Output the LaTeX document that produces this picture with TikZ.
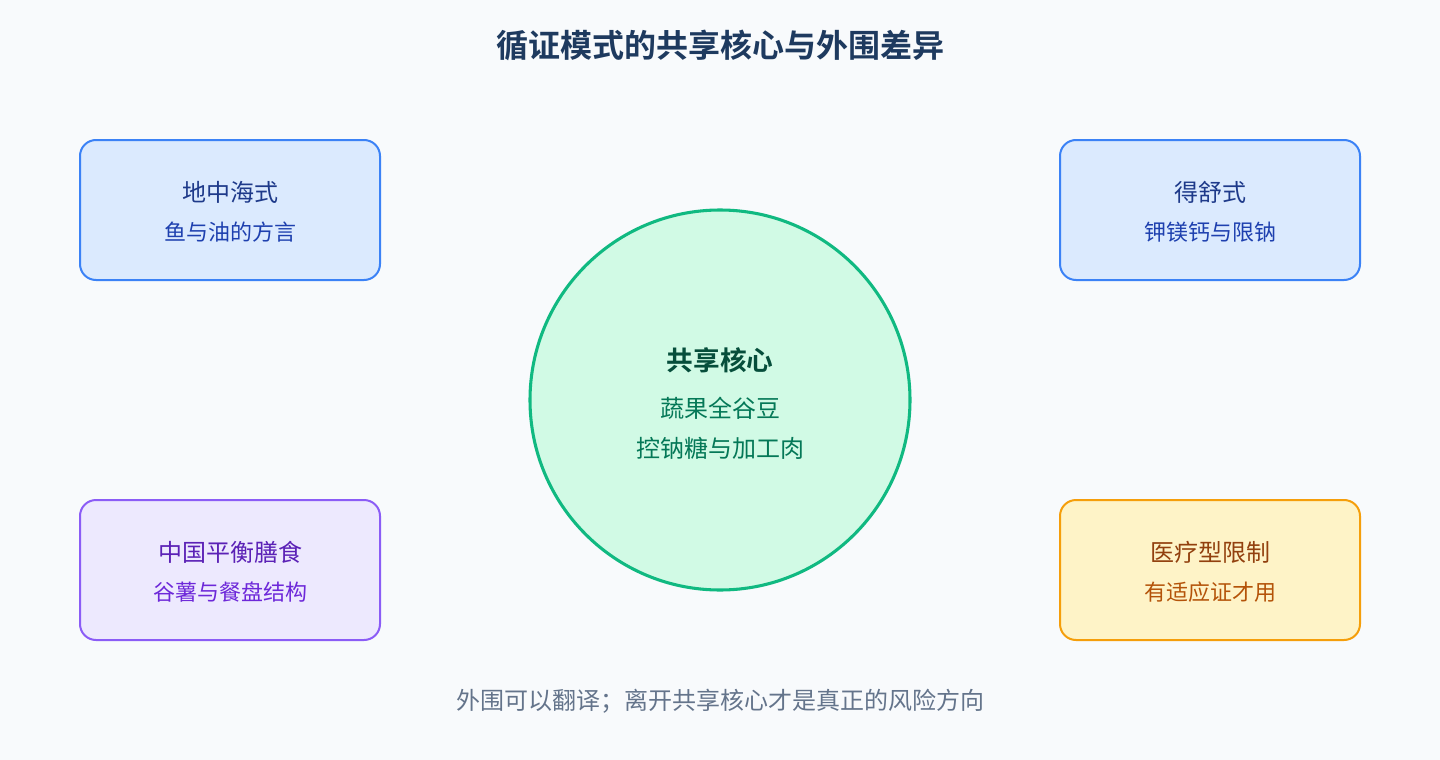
\documentclass[tikz,border=0pt]{standalone}
\usepackage{fontspec}
\setmainfont{Noto Sans CJK SC}
\newfontfamily\cjkb{Noto Sans CJK SC Bold}
\definecolor{bgc}{HTML}{F8FAFC}
\definecolor{titlec}{HTML}{1E3A5F}
\definecolor{bluefill}{HTML}{DBEAFE}
\definecolor{blueline}{HTML}{3B82F6}
\definecolor{bluet}{HTML}{1E3A8A}
\definecolor{blues}{HTML}{1E40AF}
\definecolor{purfill}{HTML}{EDE9FE}
\definecolor{purline}{HTML}{8B5CF6}
\definecolor{purt}{HTML}{5B21B6}
\definecolor{purs}{HTML}{6D28D9}
\definecolor{orfill}{HTML}{FEF3C7}
\definecolor{orline}{HTML}{F59E0B}
\definecolor{ort}{HTML}{92400E}
\definecolor{ors}{HTML}{B45309}
\definecolor{grfill}{HTML}{D1FAE5}
\definecolor{grline}{HTML}{10B981}
\definecolor{grt}{HTML}{064E3B}
\definecolor{grs}{HTML}{047857}
\definecolor{footc}{HTML}{64748B}
\tikzset{
  card/.style={rounded corners=12pt, line width=1.5pt, minimum width=225pt, minimum height=105pt, inner sep=0pt},
  bluecard/.style={card, draw=blueline, fill=bluefill},
  purcard/.style={card, draw=purline, fill=purfill},
  orcard/.style={card, draw=orline, fill=orfill},
  txt/.style={inner sep=0pt, anchor=center},
}
\begin{document}
\begin{tikzpicture}[x=0.75pt, y=-0.75pt]
\fill[bgc] (0,0) rectangle (1440,760);
\useasboundingbox (0,0) rectangle (1440,760);
\node[txt, font=\cjkb\fontsize{24pt}{28pt}\selectfont, text=titlec] (title) at (720,45) {循证模式的共享核心与外围差异};

\node[bluecard] (med) at (230,210) {};
\node[txt, font=\fontsize{18pt}{22pt}\selectfont, text=bluet] (medt) at (230,192) {地中海式};
\node[txt, font=\fontsize{16.5pt}{20pt}\selectfont, text=blues] (meds) at (230,232) {鱼与油的方言};

\node[bluecard] (dash) at (1210,210) {};
\node[txt, font=\fontsize{18pt}{22pt}\selectfont, text=bluet] (dasht) at (1210,192) {得舒式};
\node[txt, font=\fontsize{16.5pt}{20pt}\selectfont, text=blues] (dashs) at (1210,232) {钾镁钙与限钠};

\node[purcard] (cn) at (230,570) {};
\node[txt, font=\fontsize{18pt}{22pt}\selectfont, text=purt] (cnt) at (230,552) {中国平衡膳食};
\node[txt, font=\fontsize{16.5pt}{20pt}\selectfont, text=purs] (cns) at (230,592) {谷薯与餐盘结构};

\node[orcard] (medi) at (1210,570) {};
\node[txt, font=\fontsize{18pt}{22pt}\selectfont, text=ort] (medit) at (1210,552) {医疗型限制};
\node[txt, font=\fontsize{16.5pt}{20pt}\selectfont, text=ors] (medis) at (1210,592) {有适应证才用};

\node[circle, draw=grline, fill=grfill, line width=2.3pt, minimum size=285pt, inner sep=0pt] (core) at (720,400) {};
\node[txt, font=\cjkb\fontsize{20pt}{24pt}\selectfont, text=grt] (coret) at (720,360) {共享核心};
\node[txt, font=\fontsize{18pt}{22pt}\selectfont, text=grs] (core1) at (720,408) {蔬果全谷豆};
\node[txt, font=\fontsize{18pt}{22pt}\selectfont, text=grs] (core2) at (720,448) {控钠糖与加工肉};

\node[txt, font=\fontsize{18pt}{22pt}\selectfont, text=footc] (foot) at (720,701) {外围可以翻译；离开共享核心才是真正的风险方向};
\end{tikzpicture}
\end{document}
